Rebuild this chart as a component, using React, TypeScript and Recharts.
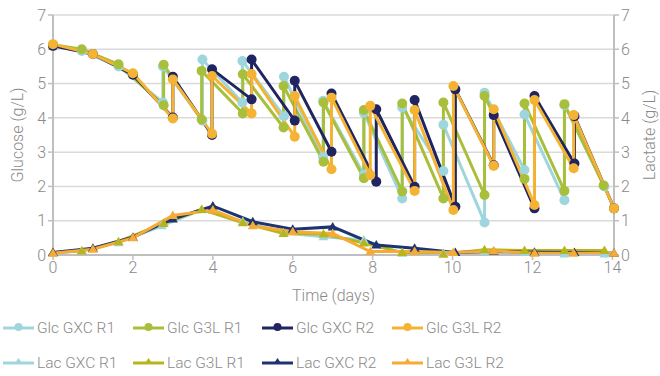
import React from 'react';
import { LineChart, Line, XAxis, YAxis, CartesianGrid, Label } from 'recharts';

const xTicks = [0, 2, 4, 6, 8, 10, 12, 14];
const yTicks = [0, 1, 2, 3, 4, 5, 6, 7];

// Glucose (g/L) - R1 runs
const glcGxcR1Days = [0, 0.72, 1.64, 2.75, 2.75, 3.74, 3.74, 4.74, 4.74, 5.78, 5.78, 6.76, 6.76, 7.78, 7.78, 8.74, 8.74, 9.77, 9.77, 10.8, 10.8, 11.8, 11.8, 12.8, 12.8, 13.8];
const glcGxcR1 = [6.1, 5.95, 5.5, 4.45, 5.5, 3.92, 5.7, 4.45, 5.66, 4.05, 5.2, 2.85, 4.5, 2.35, 4.15, 1.65, 4.3, 2.45, 3.8, 0.95, 4.73, 2.48, 4.1, 1.6, 4.37, 2.0];
const glcG3lR1Days = [0, 0.72, 1.64, 2.77, 2.77, 3.72, 3.72, 4.75, 4.75, 5.77, 5.77, 6.77, 6.77, 7.78, 7.78, 8.74, 8.74, 9.77, 9.77, 10.8, 10.8, 11.8, 11.8, 12.8, 12.8, 13.78];
const glcG3lR1 = [6.13, 6.0, 5.56, 4.37, 5.55, 3.95, 5.37, 4.13, 5.27, 3.72, 4.93, 2.72, 4.45, 2.24, 4.23, 1.85, 4.42, 1.65, 4.45, 1.75, 4.64, 2.22, 4.42, 1.87, 4.4, 2.03];
// Glucose (g/L) - R2 runs
const glcGxcR2Days = [0, 1, 2, 3, 3, 3.98, 3.98, 4.97, 4.97, 6.05, 6.05, 6.97, 6.97, 8.09, 8.09, 9.05, 9.05, 10.07, 10.07, 11.03, 11.03, 12.05, 12.05, 13.05, 13.05, 14.04];
const glcGxcR2 = [6.1, 5.86, 5.26, 4.01, 5.2, 3.5, 5.42, 4.54, 5.7, 3.92, 5.08, 3.01, 4.71, 2.14, 4.25, 1.99, 4.52, 1.41, 4.83, 2.62, 4.08, 1.36, 4.64, 2.67, 4.05, 1.36];
const glcG3lR2Days = [0, 1, 2, 3, 3, 3.98, 3.98, 4.97, 4.97, 6.05, 6.05, 6.97, 6.97, 7.94, 7.94, 9.05, 9.05, 10.02, 10.02, 11.03, 11.03, 12.05, 12.05, 13.03, 13.03, 14.04];
const glcG3lR2 = [6.15, 5.86, 5.3, 3.98, 5.12, 3.54, 5.22, 4.13, 5.28, 3.45, 4.64, 2.5, 4.59, 2.33, 4.35, 1.87, 4.23, 1.31, 4.93, 2.6, 4.25, 1.46, 4.52, 2.53, 4.08, 1.36];

// Lactate (g/L)
const lacGxcR1Days = [0, 0.72, 1.64, 2.72, 3.72, 4.75, 5.77, 6.77, 7.78, 8.74, 9.77, 10.8, 11.8, 12.8, 13.8];
const lacGxcR1 = [0.05, 0.12, 0.36, 0.85, 1.32, 0.98, 0.65, 0.53, 0.44, 0.05, 0.05, 0.1, 0.08, 0.03, 0.03];
const lacG3lR1Days = [0, 0.72, 1.64, 2.77, 3.72, 4.75, 5.77, 6.77, 7.78, 8.74, 9.77, 10.8, 11.8, 12.8, 13.8];
const lacG3lR1 = [0.07, 0.12, 0.39, 0.92, 1.33, 0.94, 0.63, 0.61, 0.35, 0.07, 0.02, 0.15, 0.13, 0.13, 0.13];
const lacGxcR2Days = [0, 1, 2, 3, 4, 5, 6, 7, 8.09, 9.05, 10.07, 11.03, 12.05, 13.05, 14.04];
const lacGxcR2 = [0.07, 0.2, 0.52, 1.05, 1.43, 0.97, 0.75, 0.82, 0.29, 0.2, 0.07, 0.1, 0.08, 0.07, 0.05];
const lacG3lR2Days = [0, 1, 2, 3, 4, 5, 6, 7, 7.94, 9.05, 10.02, 11.03, 12.05, 13.03, 14.04];
const lacG3lR2 = [0.05, 0.17, 0.5, 1.15, 1.31, 0.85, 0.68, 0.63, 0.1, 0.1, 0.07, 0.12, 0.05, 0.05, 0.05];

const zip = (xs: number[], ys: number[]) => xs.map((x, i) => ({ x, y: ys[i] }));

type Series = { name: string; color: string; kind: 'glc' | 'lac'; data: { x: number; y: number }[] };

const series: Series[] = [
  { name: 'Glc GXC R1', color: '#9fd6de', kind: 'glc', data: zip(glcGxcR1Days, glcGxcR1) },
  { name: 'Glc G3L R1', color: '#a8bf3c', kind: 'glc', data: zip(glcG3lR1Days, glcG3lR1) },
  { name: 'Glc GXC R2', color: '#202461', kind: 'glc', data: zip(glcGxcR2Days, glcGxcR2) },
  { name: 'Glc G3L R2', color: '#f4b332', kind: 'glc', data: zip(glcG3lR2Days, glcG3lR2) },
  { name: 'Lac GXC R1', color: '#9fd6de', kind: 'lac', data: zip(lacGxcR1Days, lacGxcR1) },
  { name: 'Lac G3L R1', color: '#b8b51c', kind: 'lac', data: zip(lacG3lR1Days, lacG3lR1) },
  { name: 'Lac GXC R2', color: '#1d3470', kind: 'lac', data: zip(lacGxcR2Days, lacGxcR2) },
  { name: 'Lac G3L R2', color: '#f6ab36', kind: 'lac', data: zip(lacG3lR2Days, lacG3lR2) },
];

const FONT = 'Roboto, "Liberation Sans", sans-serif';
const TEXT = '#8a8a8a';
const AXIS = '#bfbfbf';
const FS = 16;

const triDot = (color: string) => (props: any) => {
  const { cx, cy, index } = props;
  if (cx == null || cy == null) return <g key={index} />;
  return <path key={index} d={`M${cx},${cy - 5} L${cx + 5},${cy + 3.5} L${cx - 5},${cy + 3.5} Z`} fill={color} />;
};

const LegendBox = () => (
  <div style={{ position: 'absolute', left: 0, top: 316, width: 660, fontFamily: FONT, fontWeight: 300, color: TEXT, fontSize: 15.5 }}>
    {[0, 1].map((row) => (
      <div key={row} style={{ position: 'relative', height: 35 }}>
        {series.slice(row * 4, row * 4 + 4).map((s, i) => (
          <div key={s.name} style={{ position: 'absolute', left: [3, 133, 262, 392][i], top: 0, height: 24, display: 'flex', alignItems: 'center', whiteSpace: 'nowrap' }}>
            <svg width={31} height={12} style={{ marginRight: 3 }}>
              <line x1={0} y1={6} x2={31} y2={6} stroke={s.color} strokeWidth={3} />
              {s.kind === 'glc' ? (
                <circle cx={15.5} cy={5} r={4} fill={s.color} />
              ) : (
                <path d="M15.5,1 L19.5,7 L11.5,7 Z" fill={s.color} />
              )}
            </svg>
            <span>{s.name}</span>
          </div>
        ))}
      </div>
    ))}
  </div>
);

export default function App() {
  return (
    <div style={{ position: 'absolute', left: 0, top: 0, width: 660, height: 376, background: '#fff' }}>
      <LineChart width={660} height={376} margin={{ top: 15, right: 0, left: 0, bottom: 71 }}>
        <CartesianGrid vertical={false} stroke="#dadada" strokeWidth={1.5} yAxisId="g" />
        <XAxis
          dataKey="x"
          type="number"
          domain={[0, 14]}
          ticks={xTicks}
          height={50}
          axisLine={{ stroke: AXIS, strokeWidth: 2 }}
          tickLine={{ stroke: AXIS, strokeWidth: 1.5 }}
          tickSize={5}
          tick={{ fill: TEXT, fontSize: FS, fontFamily: FONT, fontWeight: 300 }}
          allowDuplicatedCategory={false}
        >
          <Label value="Time (days)" position="insideBottom" offset={4} fill={TEXT} fontSize={FS} fontFamily={FONT} fontWeight={300} />
        </XAxis>
        <YAxis
          yAxisId="g"
          domain={[0, 7]}
          ticks={yTicks}
          width={53}
          axisLine={{ stroke: AXIS, strokeWidth: 2 }}
          tickLine={{ stroke: AXIS, strokeWidth: 1.5 }}
          tickSize={5}
          tick={{ fill: TEXT, fontSize: FS, fontFamily: FONT, fontWeight: 300 }}
        >
          <Label value="Glucose (g/L)" angle={-90} position="insideLeft" offset={17} style={{ textAnchor: 'middle' }} fill={TEXT} fontSize={FS} fontFamily={FONT} fontWeight={300} />
        </YAxis>
        <YAxis
          yAxisId="l"
          orientation="right"
          domain={[0, 7]}
          ticks={yTicks}
          width={46}
          axisLine={{ stroke: AXIS, strokeWidth: 2 }}
          tickLine={{ stroke: AXIS, strokeWidth: 1.5 }}
          tickSize={5}
          tick={{ fill: TEXT, fontSize: FS, fontFamily: FONT, fontWeight: 300 }}
        >
          <Label value="Lactate (g/L)" angle={-90} position="insideRight" offset={11} style={{ textAnchor: 'middle' }} fill={TEXT} fontSize={FS} fontFamily={FONT} fontWeight={300} />
        </YAxis>
        {series.map((s) => (
          <Line
            key={s.name}
            name={s.name}
            data={s.data}
            dataKey="y"
            yAxisId={s.kind === 'glc' ? 'g' : 'l'}
            type="linear"
            stroke={s.color}
            strokeWidth={3}
            dot={s.kind === 'glc' ? { r: 5, fill: s.color, stroke: s.color, strokeWidth: 0 } : triDot(s.color)}
            activeDot={false}
            isAnimationActive={false}
          />
        ))}
      </LineChart>
      <LegendBox />
    </div>
  );
}
